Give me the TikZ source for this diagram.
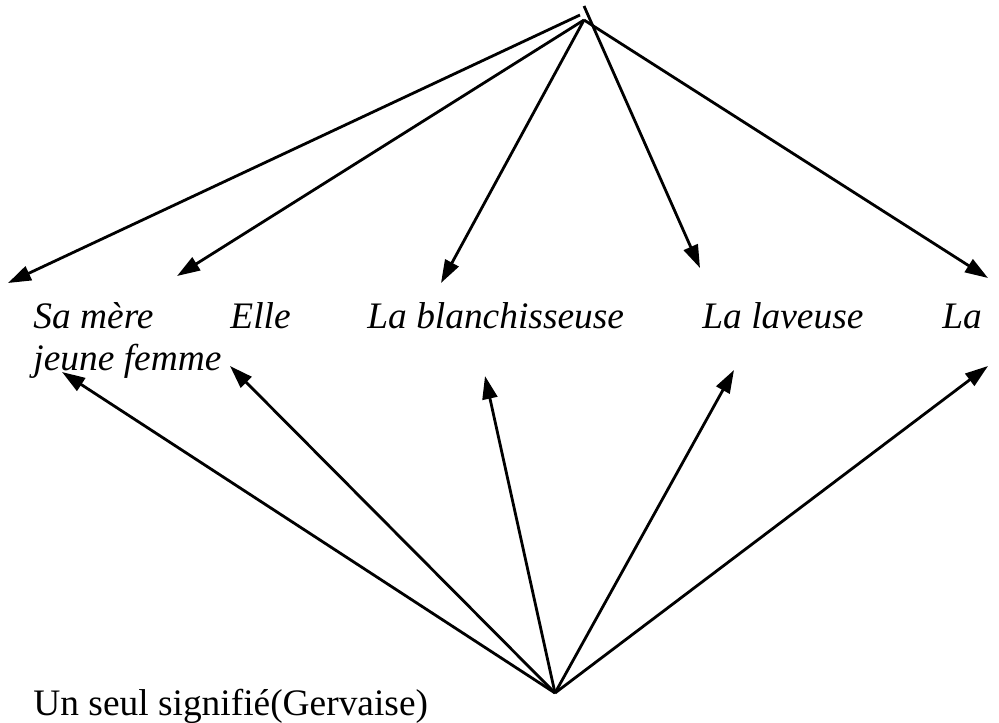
\documentclass[tikz,border=0pt]{standalone}
\usepackage{fontspec}
\setmainfont{Liberation Serif}
\usetikzlibrary{arrows.meta}
\begin{document}
\begin{tikzpicture}[x=0.5pt,y=-0.5pt,
	arrow/.style={ draw, line width=1.4pt, -{Triangle[length=11.5pt,width=7.5pt]} },
	word/.style={ anchor=base west, inner sep=0pt, font=\fontsize{18.7}{22}\selectfont\itshape },
	plain/.style={ anchor=base west, inner sep=0pt, font=\fontsize{18.7}{22}\selectfont }
]
\useasboundingbox (0,0) rectangle (999,722);

% the two apexes
\coordinate (T) at (584,20);
\coordinate (Tl) at (580,15);
\coordinate (Tk) at (584,6);
\coordinate (B) at (555,693);

% upper arrow tips
\coordinate (u1) at (8,283);
\coordinate (u2) at (177,276);
\coordinate (u3) at (441,283);
\coordinate (u4) at (700,268);
\coordinate (u5) at (988,278);

% lower arrow tips
\coordinate (d1) at (62,372);
\coordinate (d2) at (230,366);
\coordinate (d3) at (485,376);
\coordinate (d4) at (734,370);
\coordinate (d5) at (988,366);

\node at (33,328) (mere) [word] {Sa mère};
\node at (230,328) (elle) [word] {Elle};
\node at (367,328) (blanch) [word] {La blanchisseuse};
\node at (702,328) (laveuse) [word] {La laveuse};
\node at (942,328) (la) [word] {La};
\node at (33,370) (femme) [word] {jeune femme};
\node at (33,715) (sig) [plain] {Un seul signifié(Gervaise)};

\draw[arrow] (Tl) -- (u1);
\foreach \p in {u2,u3,u5} \draw[arrow] (T) -- (\p);
\draw[arrow] (Tk) -- (u4);
\foreach \p in {d1,d2,d3,d4,d5} \draw[arrow] (B) -- (\p);

\end{tikzpicture}
\end{document}
